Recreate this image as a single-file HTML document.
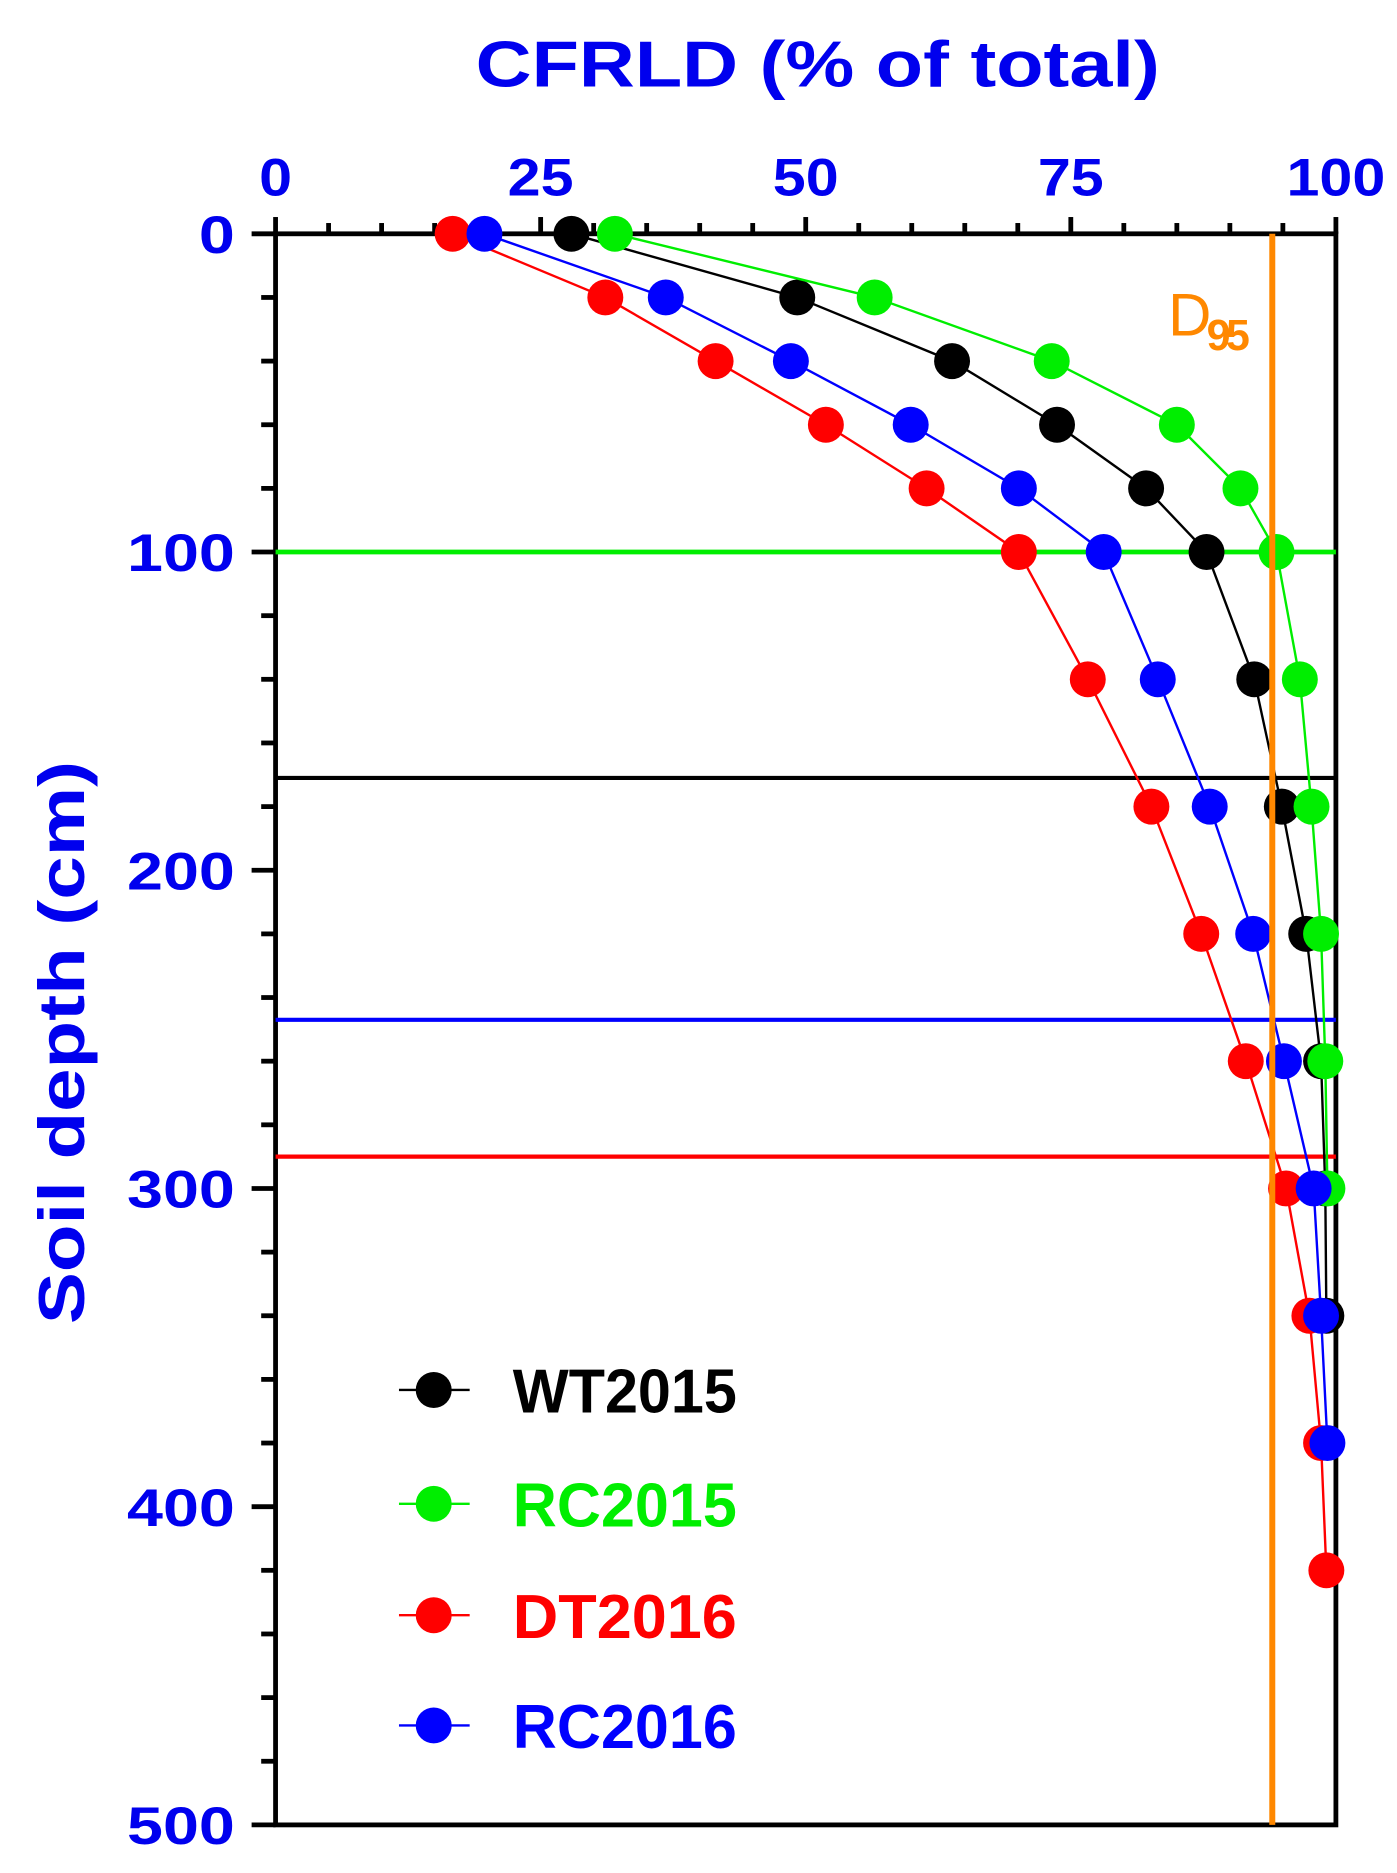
<!DOCTYPE html>
<html><head><meta charset="utf-8"><style>html,body{margin:0;padding:0;background:#fff}svg{display:block}</style></head>
<body>
<svg width="1397" height="1873" viewBox="0 0 1166 1563" xmlns="http://www.w3.org/2000/svg" font-family="Liberation Sans, Arial, sans-serif" font-weight="bold">
<g id="root"></g>
</svg>
<script>
const xTicks=[0,25,50,75,100];
const yTicks=[0,100,200,300,400,500];
const depthsWT2015=[0,20,40,60,80,100,140,180,220,260,300,340];
const valsWT2015=[27.9,49.2,63.8,73.7,82.1,87.8,92.3,94.9,97.2,98.6,99,99.1];
const depthsRC2015=[0,20,40,60,80,100,140,180,220,260,300];
const valsRC2015=[32,56.5,73.2,85,91,94.4,96.6,97.7,98.6,99,99.2];
const depthsDT2016=[0,20,40,60,80,100,140,180,220,260,300,340,380,420];
const valsDT2016=[16.7,31.1,41.5,51.9,61.4,70.1,76.6,82.6,87.3,91.5,95.3,97.5,98.6,99.1];
const depthsRC2016=[0,20,40,60,80,100,140,180,220,260,300,340,380];
const valsRC2016=[19.7,36.8,48.6,59.9,70.1,78.1,83.2,88.1,92.2,95.1,97.9,98.6,99.2];
const seriesNames=["WT2015","RC2015","DT2016","RC2016"];
const seriesColors=["#000000","#00ee00","#ff0000","#0000ff"];
const rootDepths=[171,100,290,247];
const d95=94;

const L=230,R=1115,T=195,B=1523;
const X=v=>L+(R-L)*v/100, Y=d=>T+(B-T)*d/500;
const NS="http://www.w3.org/2000/svg", root=document.getElementById('root');
function mk(tag,at,parent){const e=document.createElementNS(NS,tag);for(const k in at)e.setAttribute(k,at[k]);(parent||root).appendChild(e);return e;}

let t=mk('text',{x:397,y:72,'font-size':54,fill:'#0000ee',textLength:571,lengthAdjust:'spacingAndGlyphs'});t.textContent='CFRLD (% of total)';


t=mk('text',{x:0,y:0,'font-size':54,fill:'#0000ee',textLength:470,lengthAdjust:'spacingAndGlyphs',transform:'translate(70,1105) rotate(-90)'});t.textContent='Soil depth (cm)';



for(let v=0;v<=100;v+=5){const major=v%25===0;const l=mk('line',{x1:X(v),x2:X(v),y1:T,y2:T-(major?14:9),stroke:'#000','stroke-width':4});

}
xTicks.forEach(v=>{const s=String(v);const w=s.length*27.5;const e=mk('text',{x:X(v)-w/2,y:163,'font-size':44,fill:'#0000ee',textLength:w,lengthAdjust:'spacingAndGlyphs'});e.textContent=s;

});
for(let d=0;d<=500;d+=20){const major=d%100===0;const l=mk('line',{x1:L,x2:L-(major?20:12),y1:Y(d),y2:Y(d),stroke:'#000','stroke-width':4});

}
yTicks.forEach(d=>{const s=String(d);const w=s.length*30;const e=mk('text',{x:196-w,y:Y(d)+16,'font-size':44,fill:'#0000ee',textLength:w,lengthAdjust:'spacingAndGlyphs'});e.textContent=s;

});

let f=mk('rect',{x:L,y:T,width:R-L,height:B-T,fill:'none',stroke:'#000','stroke-width':4});



rootDepths.forEach((d,i)=>{const l=mk('line',{x1:L,x2:R,y1:Y(d),y2:Y(d),stroke:seriesColors[i],'stroke-width':i===1?4:3.5});

});

const allD=[depthsWT2015,depthsRC2015,depthsDT2016,depthsRC2016];
const allV=[valsWT2015,valsRC2015,valsDT2016,valsRC2016];
allD.forEach((ds,i)=>{
  const g=mk('g',{});
  
  
  const pts=ds.map((d,j)=>X(allV[i][j])+','+Y(d)).join(' ');
  const pl=mk('polyline',{points:pts,fill:'none',stroke:seriesColors[i],'stroke-width':2},g);
  
  
  ds.forEach((d,j)=>{const c=mk('circle',{cx:X(allV[i][j]),cy:Y(d),r:15,fill:seriesColors[i]},g);
  
  });
});

let dl=mk('line',{x1:X(d95),x2:X(d95),y1:T,y2:B,stroke:'#ff8800','stroke-width':5});


let dt=mk('text',{x:975,y:280,'font-size':50,'font-weight':'normal',fill:'#ff8800','letter-spacing':-4});
dt.innerHTML='D<tspan font-size="36" font-weight="bold" dy="12">95</tspan>';



const ly=[1160,1255,1348,1440];
seriesNames.forEach((n,i)=>{
  const g=mk('g',{});
  
  
  mk('line',{x1:333,x2:392,y1:ly[i],y2:ly[i],stroke:seriesColors[i],'stroke-width':2},g);
  mk('circle',{cx:362,cy:ly[i],r:15,fill:seriesColors[i]},g);
  const e=mk('text',{x:428,y:ly[i]+19,'font-size':52,fill:seriesColors[i],textLength:187,lengthAdjust:'spacingAndGlyphs'},g);e.textContent=n;
});
</script>
</body></html>
